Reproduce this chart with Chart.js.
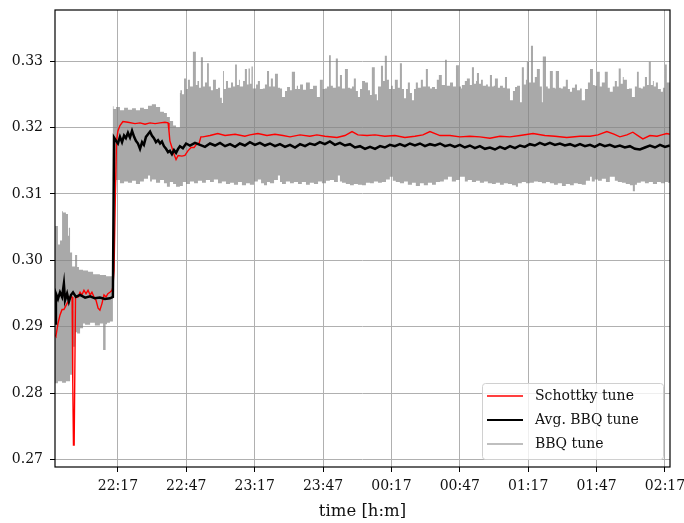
<!DOCTYPE html>
<html>
<head>
<meta charset="utf-8">
<script src="https://cdn.jsdelivr.net/npm/chart.js@4.4.1/dist/chart.umd.min.js"></script>
<style>
  html, body { margin: 0; padding: 0; background: #ffffff; }
  canvas { display: block; }
</style>
</head>
<body>
<canvas id="tuneChart" width="684" height="523"></canvas>
<script>
// Times are minutes after 21:00; values are the fractional tune.

const schottkyTune = [
  [49.4,0.2888],[49.8,0.2886],[50.7,0.2905],[51.6,0.2918],[52.5,0.2926],[53.3,0.2926],[54.2,0.2932],[55.1,0.2938],
  [56.0,0.2945],[56.9,0.2945],[57.2,0.2815],[57.5,0.2722],[57.8,0.2722],[58.4,0.2945],[59.5,0.2945],[60.4,0.2952],
  [61.2,0.2948],[62.1,0.2955],[63.0,0.2950],[63.9,0.2955],[64.8,0.2948],[65.6,0.2952],[66.5,0.2945],[67.4,0.2940],
  [68.3,0.2928],[69.1,0.2925],[70.0,0.2935],[70.9,0.2948],[71.8,0.2945],[72.6,0.2950],[73.5,0.2952],[74.4,0.2955],
  [74.8,0.2960],[75.3,0.2985],[75.9,0.3100],[76.4,0.3180],[77.0,0.3195],[77.9,0.3203],[79.2,0.3209],[81.4,0.3208],
  [84.5,0.3206],[86.7,0.3207],[88.9,0.3205],[91.1,0.3207],[93.3,0.3206],[95.5,0.3207],[97.6,0.3208],[99.0,0.3207],
  [99.4,0.3195],[99.8,0.3180],[100.7,0.3170],[101.6,0.3160],[102.5,0.3152],[103.4,0.3158],[105.1,0.3157],[106.4,0.3158],
  [107.7,0.3165],[109.1,0.3170],[110.4,0.3170],[111.7,0.3176],[112.6,0.3176],[113.4,0.3186],[114.3,0.3186],[117.4,0.3188],
  [120.8,0.3191],[124.0,0.3188],[128.4,0.3190],[132.7,0.3187],[134.9,0.3189],[138.4,0.3191],[142.4,0.3188],[145.9,0.3190],
  [149.4,0.3188],[152.5,0.3186],[156.9,0.3189],[161.2,0.3187],[164.3,0.3189],[167.8,0.3187],[173.1,0.3185],[176.6,0.3188],
  [179.7,0.3194],[182.3,0.3189],[186.3,0.3188],[189.8,0.3189],[194.1,0.3187],[198.5,0.3188],[202.9,0.3185],[207.3,0.3187],
  [210.8,0.3189],[213.9,0.3194],[218.3,0.3188],[222.7,0.3188],[227.0,0.3186],[231.4,0.3187],[235.8,0.3186],[240.2,0.3184],
  [244.6,0.3187],[249.0,0.3186],[253.4,0.3188],[259.1,0.3191],[264.3,0.3188],[268.7,0.3187],[273.9,0.3185],[279.7,0.3187],
  [284.1,0.3187],[287.6,0.3189],[291.5,0.3194],[294.6,0.3190],[297.2,0.3186],[300.3,0.3189],[302.9,0.3193],[305.1,0.3188],
  [307.3,0.3183],[310.4,0.3188],[313.5,0.3187],[315.6,0.3189],[317.8,0.3191],[319.1,0.3190]
];

const avgBbqTune = [
  [49.4,0.2905],[49.8,0.2950],[50.7,0.2942],[51.6,0.2952],[52.5,0.2945],[53.3,0.2965],[53.8,0.2940],[54.7,0.2950],
  [55.5,0.2938],[56.4,0.2948],[57.3,0.2952],[58.6,0.2945],[60.4,0.2948],[62.6,0.2944],[64.8,0.2946],[66.9,0.2943],
  [69.1,0.2944],[71.3,0.2942],[73.5,0.2943],[74.8,0.2945],[75.3,0.3185],[76.2,0.3180],[77.0,0.3176],[77.9,0.3186],
  [78.8,0.3178],[79.7,0.3188],[80.5,0.3184],[81.4,0.3192],[82.3,0.3185],[83.2,0.3195],[84.1,0.3186],[84.9,0.3180],
  [85.8,0.3176],[86.7,0.3168],[87.6,0.3178],[88.4,0.3174],[89.3,0.3186],[90.2,0.3190],[91.1,0.3194],[91.9,0.3188],
  [92.8,0.3184],[93.7,0.3178],[94.6,0.3181],[95.5,0.3176],[96.3,0.3179],[97.2,0.3172],[98.1,0.3168],[99.0,0.3163],
  [99.8,0.3165],[100.7,0.3160],[101.6,0.3166],[102.5,0.3162],[103.4,0.3168],[104.2,0.3172],[105.5,0.3169],[106.9,0.3176],
  [108.6,0.3173],[110.8,0.3177],[113.0,0.3174],[115.2,0.3171],[117.4,0.3176],[119.6,0.3173],[121.8,0.3177],[124.0,0.3172],
  [126.2,0.3175],[128.4,0.3171],[130.5,0.3176],[132.7,0.3173],[134.9,0.3178],[137.1,0.3174],[139.3,0.3177],[141.5,0.3173],
  [143.7,0.3176],[145.9,0.3172],[148.1,0.3175],[150.3,0.3171],[152.5,0.3174],[154.7,0.3170],[156.9,0.3175],[159.1,0.3172],
  [161.2,0.3176],[163.4,0.3174],[165.6,0.3178],[167.8,0.3175],[170.0,0.3179],[172.2,0.3174],[174.4,0.3177],[176.6,0.3173],
  [178.8,0.3175],[181.0,0.3170],[183.2,0.3172],[185.4,0.3168],[187.6,0.3171],[189.8,0.3168],[192.0,0.3172],[194.1,0.3170],
  [196.3,0.3174],[198.5,0.3172],[200.7,0.3175],[202.9,0.3172],[205.1,0.3176],[207.3,0.3173],[209.5,0.3176],[211.7,0.3172],
  [213.9,0.3175],[216.1,0.3173],[218.3,0.3176],[220.5,0.3172],[222.7,0.3174],[224.8,0.3171],[227.0,0.3174],[229.2,0.3170],
  [231.4,0.3173],[233.6,0.3169],[235.8,0.3172],[238.0,0.3168],[240.2,0.3170],[242.4,0.3167],[244.6,0.3171],[246.8,0.3168],
  [249.0,0.3172],[251.2,0.3169],[253.4,0.3173],[255.5,0.3171],[257.7,0.3175],[259.9,0.3173],[262.1,0.3177],[264.3,0.3174],
  [266.5,0.3177],[268.7,0.3174],[270.9,0.3176],[273.1,0.3173],[275.3,0.3175],[277.5,0.3172],[279.7,0.3175],[281.9,0.3172],
  [284.1,0.3174],[286.2,0.3171],[288.4,0.3175],[290.6,0.3172],[292.8,0.3174],[295.0,0.3171],[297.2,0.3173],[299.4,0.3170],
  [301.6,0.3172],[303.8,0.3168],[306.0,0.3167],[308.2,0.3170],[310.4,0.3173],[312.6,0.3170],[314.8,0.3174],[317.0,0.3171],
  [319.1,0.3173]
];

// Upper edge of the raw BBQ tune scatter
const bbqTuneHigh = [
  [49.4,0.3059],[50.7,0.3052],[51.6,0.3024],[52.5,0.3030],[52.9,0.3074],[54.2,0.3072],[55.1,0.3070],[55.5,0.3037],
  [56.0,0.3049],[56.9,0.3012],[58.2,0.2991],[59.1,0.3008],[59.9,0.2990],[61.7,0.2986],[63.9,0.2985],[66.1,0.2983],
  [69.1,0.2979],[71.8,0.2978],[74.8,0.2976],[75.1,0.3232],[76.2,0.3228],[77.9,0.3231],[79.7,0.3226],[81.4,0.3230],
  [83.2,0.3227],[84.9,0.3229],[86.7,0.3226],[88.4,0.3230],[90.2,0.3228],[91.9,0.3233],[93.7,0.3235],[95.5,0.3231],
  [97.2,0.3224],[98.5,0.3222],[99.8,0.3216],[101.2,0.3210],[102.5,0.3203],[104.2,0.3200],[104.4,0.3252],[105.1,0.3256],
  [106.0,0.3250],[106.9,0.3274],[107.7,0.3258],[108.6,0.3272],[109.9,0.3262],[111.2,0.3314],[111.9,0.3264],[112.6,0.3270],
  [113.4,0.3260],[114.3,0.3306],[115.2,0.3262],[116.1,0.3268],[116.9,0.3297],[117.8,0.3262],[118.7,0.3256],[120.0,0.3272],
  [120.9,0.3258],[121.8,0.3260],[122.6,0.3245],[123.1,0.3237],[123.5,0.3285],[124.4,0.3258],[125.3,0.3270],[126.6,0.3260],
  [127.5,0.3268],[128.4,0.3262],[129.2,0.3295],[130.1,0.3264],[130.5,0.3272],[131.9,0.3262],[132.7,0.3270],[133.6,0.3288],
  [134.3,0.3265],[134.9,0.3289],[135.6,0.3266],[136.2,0.3292],[137.6,0.3259],[138.4,0.3265],[139.3,0.3270],[140.6,0.3258],
  [141.5,0.3259],[142.4,0.3265],[143.3,0.3285],[144.1,0.3262],[145.0,0.3274],[145.9,0.3262],[147.2,0.3281],[148.1,0.3260],
  [149.0,0.3259],[150.3,0.3246],[151.2,0.3255],[152.5,0.3261],[153.3,0.3256],[154.7,0.3284],[155.5,0.3258],[156.0,0.3263],
  [156.9,0.3258],[158.2,0.3265],[159.5,0.3257],[161.2,0.3268],[162.6,0.3258],[164.3,0.3263],[165.6,0.3246],[166.9,0.3272],
  [167.8,0.3258],[168.7,0.3259],[169.6,0.3262],[170.4,0.3309],[171.3,0.3263],[172.6,0.3260],[173.5,0.3304],[174.4,0.3262],
  [175.3,0.3279],[176.6,0.3259],[177.9,0.3288],[178.8,0.3260],[179.7,0.3259],[180.5,0.3262],[181.4,0.3274],[182.3,0.3255],
  [183.2,0.3246],[184.1,0.3258],[185.4,0.3270],[186.7,0.3268],[187.6,0.3256],[188.4,0.3249],[189.7,0.3291],[190.6,0.3250],
  [191.1,0.3241],[192.4,0.3262],[193.3,0.3293],[194.1,0.3270],[195.0,0.3308],[195.9,0.3272],[196.8,0.3258],[197.6,0.3263],
  [198.5,0.3258],[199.8,0.3272],[200.7,0.3260],[201.6,0.3297],[202.5,0.3258],[203.4,0.3244],[204.2,0.3258],[205.1,0.3268],
  [206.0,0.3252],[206.9,0.3241],[207.7,0.3258],[208.6,0.3268],[209.9,0.3260],[210.8,0.3272],[212.1,0.3262],[213.0,0.3288],
  [213.9,0.3262],[214.8,0.3259],[216.1,0.3261],[216.9,0.3258],[217.8,0.3272],[219.1,0.3279],[220.5,0.3264],[221.3,0.3302],
  [222.2,0.3263],[222.7,0.3263],[224.0,0.3268],[225.3,0.3262],[226.6,0.3294],[227.5,0.3262],[227.9,0.3259],[229.2,0.3264],
  [230.1,0.3270],[231.4,0.3274],[232.3,0.3264],[233.2,0.3291],[234.1,0.3266],[234.5,0.3270],[235.4,0.3282],[236.3,0.3266],
  [237.1,0.3272],[238.5,0.3263],[239.3,0.3265],[240.2,0.3262],[241.1,0.3279],[241.9,0.3262],[242.4,0.3263],[243.7,0.3274],
  [244.6,0.3260],[245.9,0.3263],[246.8,0.3260],[247.7,0.3276],[249.0,0.3259],[250.3,0.3241],[251.2,0.3255],[252.1,0.3261],
  [253.4,0.3263],[254.2,0.3238],[255.1,0.3291],[256.0,0.3265],[256.4,0.3272],[257.3,0.3299],[258.2,0.3268],[259.1,0.3323],
  [259.9,0.3268],[260.8,0.3276],[262.1,0.3288],[263.0,0.3262],[263.4,0.3238],[264.8,0.3307],[265.6,0.3262],[266.5,0.3259],
  [267.8,0.3285],[268.7,0.3260],[269.1,0.3259],[270.5,0.3285],[271.3,0.3260],[272.2,0.3259],[273.5,0.3262],[274.4,0.3272],
  [275.3,0.3258],[276.2,0.3254],[277.5,0.3260],[278.4,0.3265],[279.7,0.3256],[280.5,0.3259],[281.9,0.3241],[283.2,0.3258],
  [284.1,0.3268],[285.4,0.3288],[286.2,0.3264],[287.1,0.3263],[288.4,0.3284],[289.3,0.3262],[290.6,0.3268],[291.9,0.3284],
  [292.8,0.3260],[294.1,0.3254],[295.0,0.3262],[295.9,0.3270],[296.7,0.3262],[297.6,0.3289],[298.5,0.3266],[298.9,0.3276],
  [300.3,0.3272],[301.2,0.3258],[302.5,0.3259],[303.8,0.3246],[304.7,0.3262],[305.5,0.3284],[306.4,0.3260],[307.3,0.3259],
  [308.2,0.3262],[309.1,0.3276],[309.9,0.3264],[310.8,0.3299],[311.7,0.3264],[312.1,0.3270],[313.0,0.3262],[313.9,0.3268],
  [315.2,0.3258],[316.1,0.3254],[317.0,0.3260],[317.8,0.3295],[318.7,0.3268],[319.6,0.3268]
];

// Lower edge of the raw BBQ tune scatter
const bbqTuneLow = [
  [49.4,0.2817],[50.7,0.2815],[52.5,0.2818],[54.2,0.2816],[56.0,0.2818],[56.9,0.2828],[57.3,0.2834],[58.2,0.2870],
  [59.1,0.2892],[60.4,0.2890],[61.7,0.2898],[62.6,0.2905],[64.8,0.2903],[66.9,0.2906],[69.1,0.2902],[70.5,0.2905],
  [71.1,0.2865],[71.6,0.2865],[72.2,0.2904],[73.5,0.2906],[74.8,0.2908],[75.1,0.3120],[76.2,0.3118],[77.9,0.3121],
  [79.7,0.3116],[81.4,0.3119],[83.2,0.3117],[84.9,0.3120],[86.7,0.3115],[88.4,0.3119],[90.2,0.3123],[91.1,0.3128],
  [91.9,0.3119],[93.7,0.3122],[95.5,0.3117],[97.2,0.3121],[98.5,0.3116],[99.8,0.3111],[101.2,0.3118],[102.5,0.3115],
  [104.2,0.3111],[105.5,0.3112],[106.9,0.3118],[108.6,0.3115],[110.4,0.3119],[112.1,0.3116],[113.9,0.3120],[115.6,0.3117],
  [117.4,0.3121],[119.1,0.3118],[120.9,0.3122],[122.6,0.3116],[124.4,0.3119],[126.2,0.3115],[127.9,0.3117],[129.7,0.3114],
  [131.4,0.3118],[133.2,0.3113],[134.9,0.3116],[136.7,0.3114],[138.4,0.3119],[139.8,0.3122],[141.1,0.3116],[142.4,0.3113],
  [143.7,0.3118],[145.5,0.3116],[147.2,0.3121],[148.1,0.3128],[149.0,0.3118],[150.7,0.3115],[152.5,0.3119],[154.2,0.3116],
  [156.0,0.3118],[157.7,0.3115],[159.5,0.3118],[161.2,0.3114],[163.0,0.3117],[164.8,0.3115],[166.5,0.3119],[168.3,0.3116],
  [170.0,0.3120],[171.8,0.3121],[173.5,0.3118],[174.4,0.3128],[175.3,0.3119],[177.0,0.3117],[178.8,0.3115],[180.5,0.3113],
  [182.3,0.3115],[184.1,0.3114],[185.8,0.3113],[187.6,0.3117],[189.3,0.3116],[191.1,0.3119],[192.8,0.3117],[194.6,0.3118],
  [196.3,0.3122],[197.6,0.3126],[198.9,0.3120],[200.7,0.3118],[202.5,0.3116],[204.2,0.3119],[206.0,0.3114],[207.7,0.3117],
  [209.5,0.3112],[211.2,0.3116],[213.0,0.3113],[214.8,0.3117],[216.5,0.3114],[218.3,0.3118],[220.0,0.3119],[221.8,0.3122],
  [223.5,0.3126],[225.3,0.3119],[227.0,0.3121],[229.2,0.3126],[230.5,0.3119],[232.3,0.3121],[234.1,0.3118],[235.8,0.3120],
  [237.6,0.3117],[239.3,0.3119],[241.1,0.3116],[242.8,0.3115],[244.6,0.3117],[246.3,0.3114],[248.1,0.3116],[249.9,0.3115],
  [251.6,0.3113],[252.5,0.3111],[254.2,0.3116],[256.0,0.3118],[257.7,0.3116],[259.5,0.3117],[261.3,0.3119],[263.0,0.3118],
  [264.8,0.3116],[266.5,0.3118],[268.3,0.3116],[270.0,0.3114],[271.8,0.3116],[273.5,0.3112],[275.3,0.3115],[277.0,0.3113],
  [278.8,0.3116],[280.5,0.3115],[282.3,0.3114],[284.1,0.3120],[284.9,0.3126],[286.2,0.3119],[287.6,0.3122],[289.3,0.3120],
  [291.1,0.3123],[292.8,0.3118],[295.0,0.3126],[296.3,0.3120],[298.1,0.3118],[299.8,0.3117],[301.6,0.3115],[302.9,0.3113],
  [303.8,0.3104],[304.7,0.3114],[306.4,0.3117],[308.2,0.3119],[309.9,0.3116],[311.7,0.3118],[313.5,0.3115],[315.2,0.3118],
  [317.0,0.3116],[318.3,0.3118],[319.6,0.3117]
];

const timeTicks = [77, 107, 137, 167, 197, 227, 257, 287, 317];
const tuneTicks = [0.27, 0.28, 0.29, 0.30, 0.31, 0.32, 0.33];

const toPoints = rows => rows.map(([x, y]) => ({ x, y }));

const FONT = '"DejaVu Serif", serif';
const BBQ_GREY = 'rgba(128,128,128,0.68)';

function clockLabel(minutes) {
  const total = 21 * 60 + Math.round(minutes);
  const h = Math.floor(total / 60) % 24;
  const m = total % 60;
  return String(h).padStart(2, '0') + ':' + String(m).padStart(2, '0');
}

// Black frame round the plotting area
const axesFrame = {
  id: 'axesFrame',
  afterDatasetsDraw(chart) {
    const { ctx, chartArea: a } = chart;
    ctx.save();
    ctx.strokeStyle = '#000';
    ctx.lineWidth = 1.2;
    ctx.strokeRect(a.left, a.top, a.right - a.left, a.bottom - a.top);
    ctx.restore();
  }
};

// Legend box in the lower right corner of the plot
const cornerLegend = {
  id: 'cornerLegend',
  afterDraw(chart) {
    const { ctx, chartArea: a } = chart;
    const entries = [0, 1, 2].map(i => {
      const ds = chart.data.datasets[i];
      return { label: ds.label, color: ds.legendColor || ds.borderColor, width: ds.legendWidth || ds.borderWidth };
    });
    const w = 181, h = 76;
    const x0 = a.right - 188, y0 = a.bottom - 84;
    ctx.save();
    ctx.beginPath();
    if (ctx.roundRect) ctx.roundRect(x0 + 0.5, y0 + 0.5, w, h, 3);
    else ctx.rect(x0 + 0.5, y0 + 0.5, w, h);
    ctx.fillStyle = 'rgba(255,255,255,0.8)';
    ctx.fill();
    ctx.strokeStyle = '#d0d0d0';
    ctx.lineWidth = 1;
    ctx.stroke();
    ctx.font = '14px ' + FONT;
    ctx.textBaseline = 'middle';
    ctx.textAlign = 'left';
    entries.forEach((e, i) => {
      const y = y0 + 13 + i * 24;
      ctx.beginPath();
      ctx.moveTo(x0 + 5, y);
      ctx.lineTo(x0 + 41, y);
      ctx.strokeStyle = e.color;
      ctx.lineWidth = e.width;
      ctx.stroke();
      ctx.fillStyle = '#111';
      ctx.fillText(e.label, x0 + 53, y);
    });
    ctx.restore();
  }
};

new Chart(document.getElementById('tuneChart'), {
  type: 'line',
  data: {
    datasets: [
      {
        label: 'Schottky tune',
        data: toPoints(schottkyTune),
        borderColor: '#ff0000',
        borderWidth: 1.4,
        pointRadius: 0,
        fill: false,
        order: 1
      },
      {
        label: 'Avg. BBQ tune',
        data: toPoints(avgBbqTune),
        borderColor: '#000000',
        borderWidth: 2.5,
        legendWidth: 2,
        pointRadius: 0,
        fill: false,
        order: 0
      },
      {
        label: 'BBQ tune',
        data: toPoints(bbqTuneHigh),
        borderColor: 'rgba(0,0,0,0)',
        backgroundColor: BBQ_GREY,
        legendColor: BBQ_GREY,
        legendWidth: 1.5,
        borderWidth: 1,
        stepped: 'after',
        pointRadius: 0,
        fill: '+1',
        order: 2
      },
      {
        label: 'BBQ tune (low)',
        data: toPoints(bbqTuneLow),
        borderColor: 'rgba(0,0,0,0)',
        borderWidth: 1,
        stepped: 'after',
        pointRadius: 0,
        fill: false,
        order: 3
      }
    ]
  },
  options: {
    responsive: false,
    animation: false,
    devicePixelRatio: 1,
    layout: { padding: { left: 0, right: 14, top: 10, bottom: 0 } },
    plugins: {
      legend: { display: false },
      tooltip: { enabled: false },
      filler: { propagate: false }
    },
    elements: { line: { tension: 0 } },
    scales: {
      x: {
        type: 'linear',
        min: 49.4,
        max: 319.2,
        afterBuildTicks: s => { s.ticks = timeTicks.map(v => ({ value: v })); },
        afterFit: s => { s.height = 56; s.paddingLeft = 0; s.paddingRight = 0; },
        ticks: {
          autoSkip: false,
          maxRotation: 0,
          padding: 6,
          color: '#111',
          font: { family: FONT, size: 14 },
          callback: v => clockLabel(v)
        },
        grid: { color: '#b0b0b0', lineWidth: 1, tickColor: '#000', tickLength: 5, tickWidth: 1 },
        border: { display: false },
        title: {
          display: true,
          text: 'time [h:m]',
          color: '#111',
          font: { family: FONT, size: 16.5 },
          padding: { top: 0, bottom: 1 }
        }
      },
      y: {
        type: 'linear',
        min: 0.2689,
        max: 0.3377,
        afterBuildTicks: s => { s.ticks = tuneTicks.map(v => ({ value: v })); },
        afterFit: s => { s.width = 55; s.paddingTop = 0; s.paddingBottom = 0; },
        ticks: {
          padding: 7,
          color: '#111',
          font: { family: FONT, size: 14 },
          callback: v => v.toFixed(2)
        },
        grid: { color: '#b0b0b0', lineWidth: 1, tickColor: '#000', tickLength: 5, tickWidth: 1 },
        border: { display: false }
      }
    }
  },
  plugins: [axesFrame, cornerLegend]
});
</script>
</body>
</html>
